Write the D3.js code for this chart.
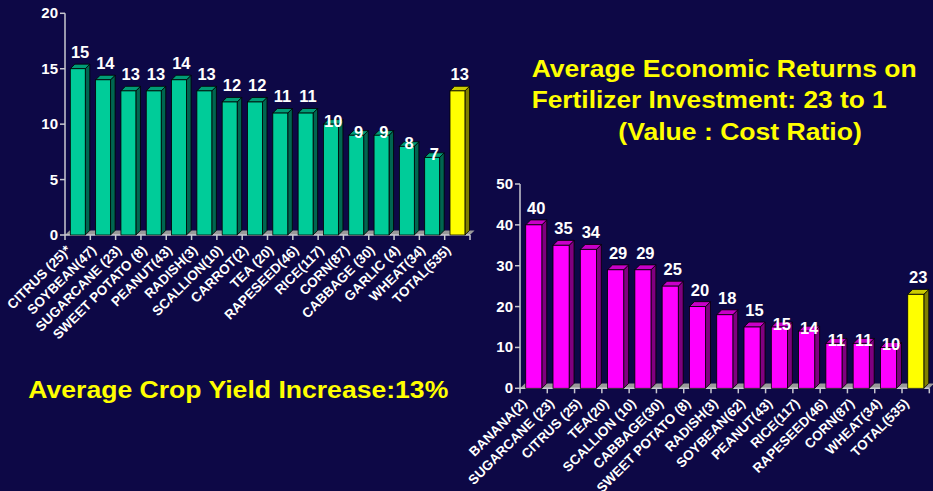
<!DOCTYPE html>
<meta charset="utf-8">
<style>
    body { margin: 0; background: #0d0846; }
    svg { display: block; }
    text { font-family: Arial, "Liberation Sans", sans-serif; font-weight: bold; }
</style>
<script src="https://d3js.org/d3.v7.min.js"></script>
<svg width="933" height="491"></svg>
<script>

    // yield increase (%) by crop, number of trials in brackets
    var yieldCrops = ["CITRUS (25)*", "SOYBEAN(47)", "SUGARCANE (23)", "SWEET POTATO (8)", "PEANUT(43)",
        "RADISH(3)", "SCALLION(10)", "CARROT(2)", "TEA (20)", "RAPESEED(46)", "RICE(117)", "CORN(87)",
        "CABBAGE (30)", "GARLIC (4)", "WHEAT(34)", "TOTAL(535)"];
    var yieldValues = [15, 14, 13, 13, 14, 13, 12, 12, 11, 11, 10, 9, 9, 8, 7, 13];
    var yieldTicks = [0, 5, 10, 15, 20];

    // value : cost ratio by crop
    var returnCrops = ["BANANA(2)", "SUGARCANE (23)", "CITRUS (25)", "TEA(20)", "SCALLION (10)", "CABBAGE(30)",
        "SWEET POTATO (8)", "RADISH(3)", "SOYBEAN(62)", "PEANUT(43)", "RICE(117)", "RAPESEED(46)",
        "CORN(87)", "WHEAT(34)", "TOTAL(535)"];
    var returnValues = [40, 35, 34, 29, 29, 25, 20, 18, 15, 15, 14, 11, 11, 10, 23];
    var returnTicks = [0, 10, 20, 30, 40, 50];

    var svg = d3.select("svg");

    var green = {front: "#00cc99", top: "#009c76", side: "#006650"},
        magenta = {front: "#ff00ff", top: "#c800c8", side: "#800080"},
        yellow = {front: "#ffff00", top: "#cccc00", side: "#808000"};

    function drawChart(crops, values, ticks, xr, yr, colors) {
        var g = svg.append("g");
        var n = crops.length;

        var x = d3.scaleBand().domain(crops).range(xr);
        var y = d3.scaleLinear().domain([0, ticks[ticks.length - 1]]).range(yr);
        var step = x.step(),
            bw = step * 0.59,
            off = step * 0.21,
            d = step * 0.18,
            y0 = y(0);

        // floor
        g.append("polygon")
            .attr("points", [[xr[0], y0], [xr[1], y0], [xr[1] + d, y0 - d], [xr[0] + d, y0 - d]].join(" "))
            .attr("fill", "#9a9a9a");

        // axes
        g.append("line").attr("x1", xr[0]).attr("x2", xr[0]).attr("y1", y0).attr("y2", yr[1])
            .attr("stroke", "#c8c8d0").attr("stroke-width", 1.5);
        g.append("line").attr("x1", xr[0]).attr("x2", xr[1]).attr("y1", y0).attr("y2", y0)
            .attr("stroke", "#c8c8d0").attr("stroke-width", 1.5);

        g.selectAll(".ytick").data(ticks).enter().append("line")
            .attr("x1", xr[0] - 5).attr("x2", xr[0])
            .attr("y1", function (t) { return y(t); }).attr("y2", function (t) { return y(t); })
            .attr("stroke", "#c8c8d0").attr("stroke-width", 1.5);

        g.selectAll(".ylab").data(ticks).enter().append("text")
            .attr("x", xr[0] - 7)
            .attr("y", function (t) { return y(t) + 5; })
            .attr("text-anchor", "end")
            .attr("font-size", 15)
            .attr("fill", "#fff")
            .text(function (t) { return t; });

        var bounds = crops.map(function (c) { return x(c); }).concat([xr[1]]);
        g.selectAll(".xtick").data(bounds).enter().append("line")
            .attr("x1", function (b) { return b; }).attr("x2", function (b) { return b; })
            .attr("y1", y0).attr("y2", y0 + 5)
            .attr("stroke", "#c8c8d0").attr("stroke-width", 1.5);

        var bar = g.selectAll(".bar").data(values).enter().append("g");

        function col(i, part) {
            return i === n - 1 ? yellow[part] : colors[part];
        }

        bar.append("polygon")
            .attr("points", function (v, i) {
                var x1 = x(crops[i]) + off + bw, yt = y(v);
                return [[x1, yt], [x1 + d, yt - d], [x1 + d, y0 - d], [x1, y0]].join(" ");
            })
            .attr("fill", function (v, i) { return col(i, "side"); })
            .attr("stroke", "#000").attr("stroke-width", 0.8);

        bar.append("polygon")
            .attr("points", function (v, i) {
                var x1 = x(crops[i]) + off, yt = y(v);
                return [[x1, yt], [x1 + d, yt - d], [x1 + bw + d, yt - d], [x1 + bw, yt]].join(" ");
            })
            .attr("fill", function (v, i) { return col(i, "top"); })
            .attr("stroke", "#000").attr("stroke-width", 0.8);

        bar.append("rect")
            .attr("x", function (v, i) { return x(crops[i]) + off; })
            .attr("y", function (v) { return y(v); })
            .attr("width", bw)
            .attr("height", function (v) { return y0 - y(v); })
            .attr("fill", function (v, i) { return col(i, "front"); })
            .attr("stroke", "#000").attr("stroke-width", 0.8);

        // value labels; the last five crop labels sit on the bar tops in the original
        g.selectAll(".val").data(values).enter().append("text")
            .attr("x", function (v, i) { return x(crops[i]) + off + bw / 2 + d / 2; })
            .attr("y", function (v, i) { return i >= n - 6 && i < n - 1 ? y(v) + 3 : y(v) - 11; })
            .attr("text-anchor", "middle")
            .attr("font-size", 16.5)
            .attr("fill", "#fff")
            .text(function (v) { return v; });

        // rotated category labels
        g.selectAll(".cat").data(crops).enter().append("text")
            .attr("transform", function (c) {
                return "translate(" + (x(c) + step / 2 - 6) + "," + (y0 + 16) + ") rotate(-45)";
            })
            .attr("text-anchor", "end")
            .attr("font-size", 13.5)
            .attr("fill", "#fff")
            .text(function (c) { return c; });
    }

    drawChart(yieldCrops, yieldValues, yieldTicks, [65, 470], [235, 13.3], green);
    drawChart(returnCrops, returnValues, returnTicks, [520, 929.3], [388.3, 184], magenta);

    // titles
    function title(str, x0, yb, len) {
        svg.append("text")
            .attr("x", x0).attr("y", yb)
            .attr("font-size", 23)
            .attr("fill", "#ffff00")
            .attr("textLength", len)
            .attr("lengthAdjust", "spacingAndGlyphs")
            .text(str);
    }
    title("Average Economic Returns on", 531.7, 76.7, 385);
    title("Fertilizer Investment: 23 to 1", 531.7, 108.3, 355);
    title("(Value : Cost Ratio)", 618.3, 140, 243.5);
    title("Average Crop Yield Increase:13%", 28.3, 398.3, 420);

</script>
